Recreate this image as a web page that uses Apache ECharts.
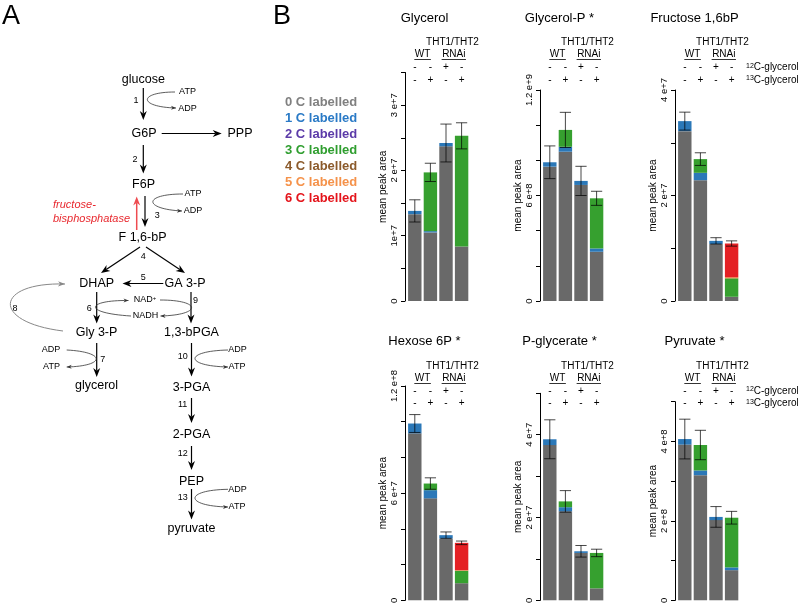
<!DOCTYPE html>
<html>
<head>
<meta charset="utf-8">
<script src="https://cdn.jsdelivr.net/npm/echarts@6/dist/echarts.min.js"></script>
<style>
  html, body { margin: 0; background: #fff; }
  #main { width: 798px; height: 606px; }
</style>
</head>
<body>
<div id="main"></div>
<script>
const FONT = '"Liberation Sans", Arial, sans-serif';

// bars: WT / RNAi, fed 12C- or 13C-glycerol
const groups = ['WT', 'WT 13C', 'RNAi 12C', 'RNAi 13C'];
const row12C = ['-', '-', '+', '-'];
const row13C = ['-', '+', '-', '+'];

const metabolites = ['Glycerol', 'Glycerol-P *', 'Fructose 1,6bP', 'Hexose 6P *', 'P-glycerate *', 'Pyruvate *'];
const labelNames = ['0 C labelled', '1 C labelled', '2 C labelled', '3 C labelled', '4 C labelled', '5 C labelled', '6 C labelled'];
const barColors = ['#696969', '#2b78b8', '#5a3a9e', '#36a02f', '#8b5a2b', '#f28a3a', '#e42024'];
const legendColors = ['#808080', '#2a7ac6', '#5b3aa8', '#2f9e2f', '#8b5a2b', '#f5924a', '#e4141b'];

// mean peak area of each isotopologue, one row per metabolite
const lab0 = [
  [1.33e7, 1.05e7, 2.37e7, 0.835e7],
  [7.64e8, 8.49e8, 6.60e8, 2.80e8],
  [3.22e7, 2.29e7, 1.08e7, 0.08e7],
  [9.35e7, 5.71e7, 3.46e7, 0.96e7],
  [3.75e7, 2.15e7, 1.145e7, 0.29e7],
  [3.92e8, 3.15e8, 2.02e8, 0.76e8]
];
const lab1 = [
  [0.05e7, 0.02e7, 0.05e7, 0],
  [0.25e8, 0.28e8, 0.23e8, 0.19e8],
  [0.19e7, 0.14e7, 0.06e7, 0],
  [0.55e7, 0.46e7, 0.19e7, 0],
  [0.14e7, 0.10e7, 0.04e7, 0],
  [0.14e8, 0.12e8, 0.08e8, 0.07e8]
];
const lab2 = [[0, 0, 0, 0], [0, 0, 0, 0], [0, 0, 0, 0], [0, 0, 0, 0], [0, 0, 0, 0], [0, 0, 0, 0]];
const lab3 = [
  [0, 0.90e7, 0, 1.695e7],
  [0, 0.96e8, 0, 2.85e8],
  [0, 0.26e7, 0, 0.35e7],
  [0, 0.37e7, 0, 0.70e7],
  [0, 0.14e7, 0, 0.855e7],
  [0, 0.64e8, 0, 1.25e8]
];
const lab4 = [[0, 0, 0, 0], [0, 0, 0, 0], [0, 0, 0, 0], [0, 0, 0, 0], [0, 0, 0, 0], [0, 0, 0, 0]];
const lab5 = [[0, 0, 0, 0], [0, 0, 0, 0], [0, 0, 0, 0.02e7], [0, 0, 0, 0.03e7], [0, 0, 0, 0], [0, 0, 0, 0]];
const lab6 = [[0, 0, 0, 0], [0, 0, 0, 0], [0, 0, 0, 0.64e7], [0, 0, 0, 1.53e7], [0, 0, 0, 0], [0, 0, 0, 0]];
const errs = [
  [0.17e7, 0.14e7, 0.29e7, 0.20e7],
  [0.93e8, 1.00e8, 0.83e8, 0.40e8],
  [0.17e7, 0.12e7, 0.06e7, 0.05e7],
  [0.50e7, 0.32e7, 0.18e7, 0.10e7],
  [0.47e7, 0.26e7, 0.14e7, 0.09e7],
  [0.50e8, 0.37e8, 0.26e8, 0.16e8]
];

// y axes
const yMax = [3.5e7, 1.2e9, 4e7, 1.2e8, 5e7, 5e8];
const yStep = [5e6, 2e8, 1e7, 2e7, 1e7, 1e8];
const yTickValues = [[0, 1e7, 2e7, 3e7], [0, 6e8, 1.2e9], [0, 2e7, 4e7], [0, 6e7, 1.2e8], [0, 2e7, 4e7], [0, 2e8, 4e8]];
const yTickLabels = [['0', '1e+7', '2 e+7', '3 e+7'], ['0', '6 e+8', '1.2 e+9'], ['0', '2 e+7', '4 e+7'],
                     ['0', '6 e+7', '1.2 e+8'], ['0', '2 e+7', '4 e+7'], ['0', '2 e+8', '4 e+8']];

const layers = [lab0, lab1, lab2, lab3, lab4, lab5, lab6];

// panel placement
const axisX = [405, 540, 675, 405, 540, 675];
const gridTop = [72.5, 90, 90, 386, 393.3, 401.7];
const gridBase = [301, 301, 301, 604, 604, 604];
const catW = 15.6;
const headY = [
  { title: 18.5, tht: 42.5, grp: 54.5, r1: 67.5, r2: 80 },
  { title: 341, tht: 366, grp: 378.5, r1: 391, r2: 403.5 }
];

const chart = echarts.init(document.getElementById('main'));

const ctx = document.createElement('canvas').getContext('2d');
function textW(s, size) { ctx.font = size + 'px ' + FONT; return ctx.measureText(s).width; }

function label(x, y, t, size, extra) {
  return { type: 'text', x: x, y: y, silent: true,
    style: Object.assign({ text: t, fontSize: size, fontFamily: FONT, fill: '#000', align: 'center', verticalAlign: 'middle' }, extra || {}) };
}
function headEl(x, y, a, len, hw, color) {
  const c = Math.cos(a), s = Math.sin(a);
  const bx = x - len * c, by = y - len * s;
  const nx = x - len * 0.7 * c, ny = y - len * 0.7 * s;
  return { type: 'polygon', silent: true,
    shape: { points: [[x, y], [bx - hw * s, by + hw * c], [nx, ny], [bx + hw * s, by - hw * c]] },
    style: { fill: color } };
}
function arrow(x1, y1, x2, y2, opt) {
  const o = Object.assign({ color: '#000', w: 1.2, len: 9, hw: 3.5 }, opt || {});
  const a = Math.atan2(y2 - y1, x2 - x1);
  return [
    { type: 'line', silent: true, shape: { x1: x1, y1: y1, x2: x2 - o.len * 0.7 * Math.cos(a), y2: y2 - o.len * 0.7 * Math.sin(a) },
      style: { stroke: o.color, lineWidth: o.w } },
    headEl(x2, y2, a, o.len, o.hw, o.color)
  ];
}
function curve(p, opt) {
  const o = Object.assign({ color: '#333', w: 0.8, len: 5, hw: 2 }, opt || {});
  const a = Math.atan2(p[7] - p[5], p[6] - p[4]);
  return [
    { type: 'bezierCurve', silent: true,
      shape: { x1: p[0], y1: p[1], cpx1: p[2], cpy1: p[3], cpx2: p[4], cpy2: p[5], x2: p[6], y2: p[7] },
      style: { stroke: o.color, lineWidth: o.w, fill: null } },
    headEl(p[6], p[7], a, o.len, o.hw, o.color)
  ];
}

// ---- panel A: pathway sketch ----
let g = [];
g.push(label(2, 3, 'A', 27, { align: 'left', verticalAlign: 'top' }));
g.push(label(273, 3, 'B', 27, { align: 'left', verticalAlign: 'top' }));

const big = 12.5, small = 9;
[['glucose', 143.3, 79.5], ['G6P', 144, 133.5], ['PPP', 240, 133.5], ['F6P', 143.5, 185],
 ['F 1,6-bP', 142.5, 237.5], ['DHAP', 96.7, 283.5], ['GA 3-P', 185, 283.5], ['Gly 3-P', 96.5, 332.5],
 ['1,3-bPGA', 191.5, 332.5], ['glycerol', 96.5, 386], ['3-PGA', 191.5, 387.5], ['2-PGA', 191.5, 435],
 ['PEP', 191.5, 481.5], ['pyruvate', 191.5, 528.5]].forEach(d => g.push(label(d[1], d[2], d[0], big)));

[['1', 136, 100.7], ['ATP', 187.5, 91.7], ['ADP', 187.5, 108.3], ['2', 135, 159.3],
 ['ATP', 193, 194], ['ADP', 193, 211], ['3', 157.3, 216], ['4', 143.3, 256.7], ['5', 143.3, 277.5],
 ['6', 89.3, 308.3], ['NADH', 145.5, 316], ['9', 195.5, 301], ['8', 15, 308.3],
 ['ADP', 51, 350], ['ATP', 51.5, 366.7], ['7', 102.7, 360], ['10', 182.7, 356.7],
 ['ADP', 237.5, 350], ['ATP', 237, 366.7], ['11', 182.7, 405], ['12', 182.7, 453.3],
 ['13', 182.7, 497.3], ['ADP', 237.5, 489.3], ['ATP', 237, 506.7]].forEach(d => g.push(label(d[1], d[2], d[0], small)));
g.push(label(145, 300, 'NAD{s|+}', small, { rich: { s: { fontSize: 6, verticalAlign: 'top', fontFamily: FONT } } }));

g.push(label(53, 205, 'fructose-', 11, { align: 'left', fill: '#e8282e', fontStyle: 'italic' }));
g.push(label(53, 219, 'bisphosphatase', 11, { align: 'left', fill: '#e8282e', fontStyle: 'italic' }));

g = g.concat(
  arrow(143.3, 88, 143.3, 120),
  arrow(161.7, 133.5, 221.7, 133.5),
  arrow(143.3, 145, 143.3, 173.5),
  arrow(145, 196, 145, 227),
  arrow(136.7, 230, 136.7, 196.5, { color: '#ee4b50', w: 1.5 }),
  arrow(140, 247, 101, 273),
  arrow(146, 247, 185, 273),
  arrow(163.3, 283.5, 122.5, 283.5),
  arrow(96.7, 292, 96.7, 323.5),
  arrow(191, 292, 191, 323.5),
  arrow(96.7, 343, 96.7, 377),
  arrow(191.5, 343, 191.5, 376.5),
  arrow(191.5, 398, 191.5, 423),
  arrow(191.5, 446, 191.5, 470),
  arrow(191.5, 489, 191.5, 519.5),
  curve([175, 92, 138, 92, 138, 107, 176, 108]),
  curve([183, 194, 143, 194, 143, 209, 182, 211]),
  curve([131, 316, 82, 313, 86, 300, 128.5, 300.5]),
  curve([160, 300, 202, 300, 202, 315, 160.5, 316]),
  curve([66.7, 350, 106, 352, 106, 366, 66.7, 367]),
  curve([228, 350, 184, 351, 184, 366, 228, 367]),
  curve([228, 489.3, 184, 490, 184, 506, 228, 507]),
  curve([63, 331, -10, 322, -5, 282, 65, 284], { color: '#888', w: 1, len: 7, hw: 2.6 })
);

// ---- panel B headers ----
metabolites.forEach((m, i) => {
  const h = headY[i < 3 ? 0 : 1];
  const left = axisX[i] + 2;
  const cx = j => left + (j + 0.5) * catW;
  g.push(label(axisX[i] + 19.5, h.title, m, 13));
  g.push(label(axisX[i] + 47.5, h.tht, 'THT1/THT2', 10));
  [['WT', left + catW], ['RNAi', left + 3 * catW]].forEach(d => {
    const w = textW(d[0], 10);
    g.push(label(d[1], h.grp, d[0], 10));
    g.push({ type: 'line', silent: true, shape: { x1: d[1] - w / 2 - 0.5, y1: h.grp + 5, x2: d[1] + w / 2 + 0.5, y2: h.grp + 5 },
      style: { stroke: '#000', lineWidth: 0.8 } });
  });
  groups.forEach((_, j) => {
    g.push(label(cx(j), h.r1, row12C[j], 10));
    g.push(label(cx(j), h.r2, row13C[j], 10));
  });
  if (i === 2 || i === 5) {
    const rich = { s: { fontSize: 7, verticalAlign: 'top', fontFamily: FONT } };
    g.push(label(746, h.r1, '{s|12}C-glycerol', 10, { align: 'left', rich: rich }));
    g.push(label(746, h.r2, '{s|13}C-glycerol', 10, { align: 'left', rich: rich }));
  }
});

// ---- panel B charts ----
const grids = [], xAxes = [], yAxes = [], series = [];
metabolites.forEach((m, i) => {
  grids.push({ left: axisX[i] + 2, top: gridTop[i], width: catW * 4, height: gridBase[i] - gridTop[i] });
  xAxes.push({ gridIndex: i, type: 'category', data: groups, show: false });
  yAxes.push({
    gridIndex: i, type: 'value', min: 0, max: yMax[i], interval: yStep[i], offset: 2,
    name: 'mean peak area', nameLocation: 'middle', nameGap: 17,
    nameTextStyle: { fontSize: 10, color: '#000', fontFamily: FONT },
    axisLine: { show: true, lineStyle: { color: '#000', width: 1 } },
    axisTick: { show: true, length: 4, lineStyle: { color: '#000' } },
    splitLine: { show: false },
    axisLabel: {
      rotate: 90, margin: 6, fontSize: 9.5, color: '#000', fontFamily: FONT,
      formatter: v => {
        const k = yTickValues[i].findIndex(t => Math.abs(t - v) < yStep[i] * 1e-3);
        return k < 0 ? '' : yTickLabels[i][k];
      }
    }
  });
  layers.forEach((lab, k) => {
    series.push({
      type: 'bar', name: labelNames[k], xAxisIndex: i, yAxisIndex: i, stack: 'p' + i,
      data: lab[i], barCategoryGap: '14%', itemStyle: { color: barColors[k] }
    });
  });
  const bars = groups.map((_, j) => {
    const mean = layers.reduce((s, lab) => s + lab[i][j], 0);
    return [j, mean - errs[i][j], mean + errs[i][j]];
  });
  series.push({
    type: 'custom', xAxisIndex: i, yAxisIndex: i, z: 10, silent: true, data: bars,
    renderItem: (params, api) => {
      const lo = api.coord([api.value(0), api.value(1)]);
      const hi = api.coord([api.value(0), api.value(2)]);
      const hw = api.size([1, 0])[0] * 0.36;
      const st = { stroke: 'rgba(0,0,0,0.72)', lineWidth: 1 };
      return { type: 'group', children: [
        { type: 'line', shape: { x1: lo[0], y1: lo[1], x2: hi[0], y2: hi[1] }, style: st },
        { type: 'line', shape: { x1: hi[0] - hw, y1: hi[1], x2: hi[0] + hw, y2: hi[1] }, style: st },
        { type: 'line', shape: { x1: lo[0] - hw, y1: lo[1], x2: lo[0] + hw, y2: lo[1] }, style: st }
      ] };
    }
  });
});

chart.setOption({
  backgroundColor: '#fff',
  animation: false,
  textStyle: { fontFamily: FONT },
  legend: {
    orient: 'vertical', left: 280, top: 94.5, padding: 0,
    icon: 'none', itemWidth: 0, itemHeight: 12, itemGap: 0,
    textStyle: { fontSize: 13, lineHeight: 16, fontWeight: 'bold', fontFamily: FONT },
    data: labelNames.map((n, k) => ({ name: n, textStyle: { color: legendColors[k] } }))
  },
  grid: grids,
  xAxis: xAxes,
  yAxis: yAxes,
  series: series,
  graphic: { elements: g }
});
</script>
</body>
</html>
